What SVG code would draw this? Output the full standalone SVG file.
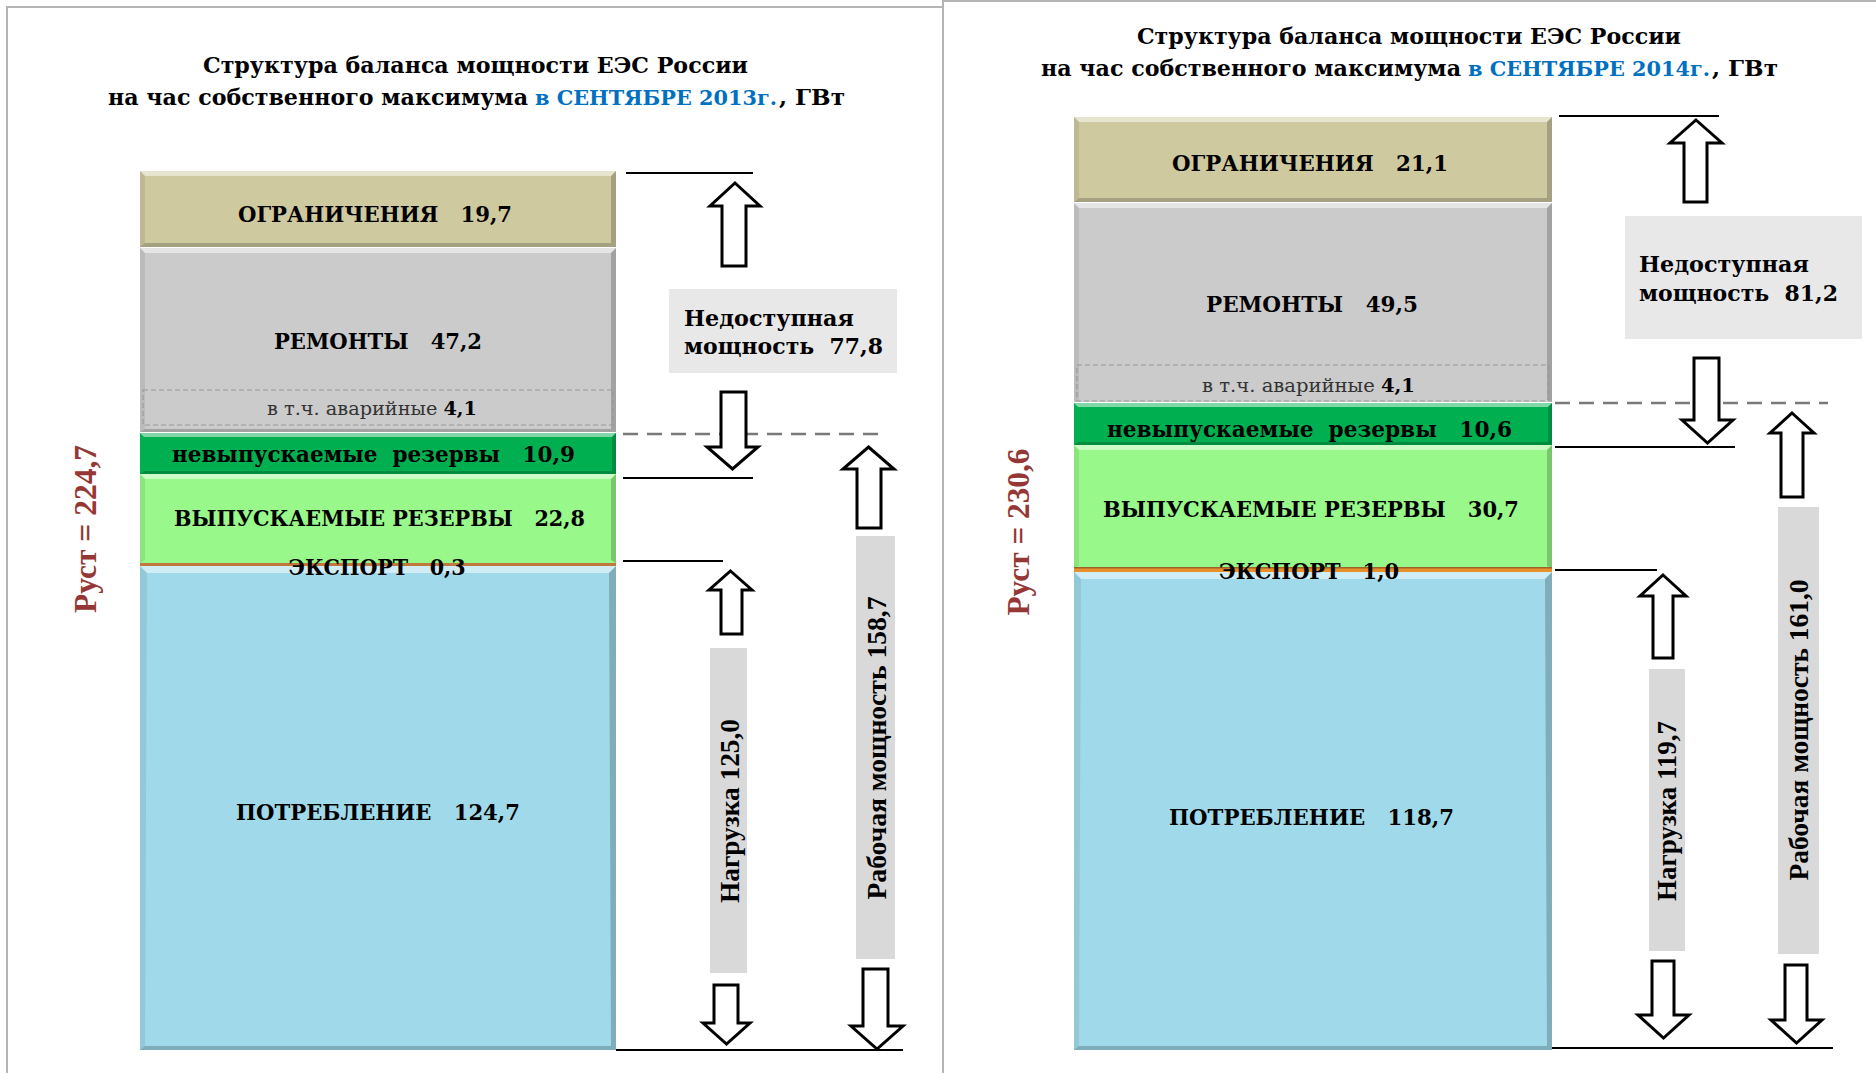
<svg xmlns="http://www.w3.org/2000/svg" width="1876" height="1073" viewBox="0 0 1876 1073">
<style>
.t{font-family:"DejaVu Serif","Liberation Serif",serif;font-weight:bold;fill:#000;white-space:pre}
.title{font-size:22px}
.blue{fill:#0070C0;font-size:20.5px}
.lbl{font-size:23px}
.sub{font-size:18px;font-weight:normal;fill:#333}
.rust{font-family:"Liberation Serif","Times New Roman",serif;font-size:32px;fill:#953735}
.vt{font-family:"Liberation Serif","Times New Roman",serif;font-size:27px}
.ogr{fill:#CFC9A0}
.rem{fill:#CBCBCB}
.nev{fill:#00B050}
.vyp{fill:#98F88A}
.pot{fill:#A0D9E9}
.hl{fill:#fff;opacity:.5}
.sd{fill:#000;opacity:.2}
.sl{fill:#000;opacity:.08}
.gbox{fill:#E8E8E8}
.vbox{fill:#D9D9D9}
.arrow{fill:#fff;stroke:#000;stroke-width:3;stroke-linejoin:miter}
.ln{stroke:#000;stroke-width:2;fill:none}
.dash{stroke:#7a7a7a;stroke-width:2.5;stroke-dasharray:15 9;fill:none}
.sdash{stroke:#999;stroke-width:1.2;stroke-dasharray:5 3;fill:none}
.frame{stroke:#b4b4b4;stroke-width:2;fill:none}
</style>
<rect width="1876" height="1073" fill="#fff"/>
<g id="frames">
<path class="frame" d="M7,1073 V7 H943"/>
<path class="frame" d="M943,1073 V1 H1876"/>
</g>

<!-- LEFT PANEL -->
<g id="title-2013">
<text class="t title" x="475.5" y="73" text-anchor="middle" textLength="545" lengthAdjust="spacingAndGlyphs">Структура баланса мощности ЕЭС России</text>
<text class="t title" x="108" y="105" textLength="420" lengthAdjust="spacingAndGlyphs">на час собственного максимума</text>
<text class="t title blue" x="535" y="105" textLength="242" lengthAdjust="spacingAndGlyphs">в СЕНТЯБРЕ 2013г.</text>
<text class="t title" x="779" y="105" textLength="66" lengthAdjust="spacingAndGlyphs">, ГВт</text>
</g>

<g id="rust-2013">
<text class="t rust" transform="translate(85,529) rotate(-90)" y="11" text-anchor="middle" textLength="168" lengthAdjust="spacingAndGlyphs">Руст = 224,7</text>
</g>

<g id="l-ogr">
<rect class="ogr" x="140" y="171" width="476" height="76"/>
<polygon class="hl" points="140,171 616,171 611,176 145,176"/>
<polygon class="sd" points="140,247 616,247 611,243 145,243"/>
<polygon class="sl" points="140,171 145,176 145,243 140,247"/>
<polygon class="sd" points="616,171 611,176 611,243 616,247"/>
<text class="t lbl" x="375" y="222" text-anchor="middle" textLength="274" lengthAdjust="spacingAndGlyphs">ОГРАНИЧЕНИЯ   19,7</text>
</g>
<g id="l-rem">
<rect class="rem" x="140" y="248" width="476" height="184"/>
<polygon class="hl" points="140,248 616,248 611,253 145,253"/>
<polygon class="sd" points="140,432 616,432 611,429 145,429"/>
<polygon class="sl" points="140,248 145,253 145,429 140,432"/>
<polygon class="sd" points="616,248 611,253 611,429 616,432"/>
<text class="t lbl" x="378" y="349" text-anchor="middle" textLength="208" lengthAdjust="spacingAndGlyphs">РЕМОНТЫ   47,2</text>
<rect class="sdash" x="143" y="390" width="470" height="35"/>
<text class="t sub" x="372" y="415" text-anchor="middle" textLength="210" lengthAdjust="spacingAndGlyphs">в т.ч. аварийные <tspan font-weight="bold" fill="#000">4,1</tspan></text>
</g>
<g id="l-nev">
<rect class="nev" x="140" y="433" width="476" height="41"/>
<polygon class="hl" points="140,433 616,433 612,437 144,437"/>
<polygon class="sd" points="140,474 616,474 612,471 144,471"/>
<polygon class="sd" points="616,433 612,437 612,471 616,474"/>
<text class="t lbl" x="373.5" y="462" text-anchor="middle" textLength="403" lengthAdjust="spacingAndGlyphs">невыпускаемые  резервы   10,9</text>
</g>
<g id="l-vyp">
<rect class="vyp" x="140" y="474" width="476" height="89"/>
<polygon class="hl" points="140,474 616,474 611,479 145,479"/>
<polygon class="sl" points="140,474 145,479 145,560 140,563"/>
<polygon class="sd" points="616,474 611,479 611,560 616,563"/>
<text class="t lbl" x="379.5" y="526" text-anchor="middle" textLength="411" lengthAdjust="spacingAndGlyphs">ВЫПУСКАЕМЫЕ РЕЗЕРВЫ   22,8</text>
</g>
<g id="l-pot">
<rect class="pot" x="140" y="566" width="476" height="484"/>
<polygon class="hl" points="140,566 616,566 609,573 147,573"/>
<polygon class="sd" points="140,1050 616,1050 611,1046 145,1046"/>
<polygon class="sl" points="140,566 147,573 145,1046 140,1050"/>
<polygon class="sd" points="616,566 609,573 611,1046 616,1050"/>
<text class="t lbl" x="378" y="820" text-anchor="middle" textLength="284" lengthAdjust="spacingAndGlyphs">ПОТРЕБЛЕНИЕ   124,7</text>
</g>
<g id="l-exp">
<rect x="140" y="563" width="476" height="3" fill="#C0783C"/>
<text class="t lbl" x="377" y="575" text-anchor="middle" textLength="177" lengthAdjust="spacingAndGlyphs">ЭКСПОРТ   0,3</text>
</g>

<g id="l-nedost">
<rect class="gbox" x="669" y="289" width="228" height="84"/>
<text class="t lbl" x="684" y="326" textLength="170" lengthAdjust="spacingAndGlyphs">Недоступная</text>
<text class="t lbl" x="684" y="354" textLength="199" lengthAdjust="spacingAndGlyphs">мощность  77,8</text>
</g>
<g id="l-nagr">
<rect class="vbox" x="710" y="648" width="37" height="325"/>
<text class="t vt" transform="translate(730,811) rotate(-90)" y="9" text-anchor="middle" textLength="184" lengthAdjust="spacingAndGlyphs">Нагрузка 125,0</text>
</g>
<g id="l-rab">
<rect class="vbox" x="856" y="536" width="39" height="423"/>
<text class="t vt" transform="translate(877,748) rotate(-90)" y="9" text-anchor="middle" textLength="303" lengthAdjust="spacingAndGlyphs">Рабочая мощность 158,7</text>
</g>

<g id="l-connectors">
<line class="ln" x1="626" y1="173" x2="753" y2="173"/>
<line class="dash" x1="623" y1="434" x2="887" y2="434"/>
<line class="ln" x1="623" y1="478" x2="753" y2="478"/>
<line class="ln" x1="623" y1="561" x2="723" y2="561"/>
<line class="ln" x1="616" y1="1050" x2="903" y2="1050"/>
<path class="arrow" d="M735,183 L760,206 L746,206 L746,266 L722,266 L722,206 L710,206 Z"/>
<path class="arrow" d="M721,392 L746,392 L746,447 L758,447 L732.5,469 L707,447 L721,447 Z"/>
<path class="arrow" d="M868.5,447 L894,469 L881,469 L881,528 L857,528 L857,469 L843,469 Z"/>
<path class="arrow" d="M730.5,571 L752,590 L742,590 L742,634 L721,634 L721,590 L709,590 Z"/>
<path class="arrow" d="M714,985 L738,985 L738,1023 L750,1023 L726.5,1044 L703,1023 L714,1023 Z"/>
<path class="arrow" d="M863,969 L888,969 L888,1026 L903,1026 L877,1049 L851,1026 L863,1026 Z"/>
</g>

<!-- RIGHT PANEL -->
<g id="title-2014">
<text class="t title" x="1409" y="44" text-anchor="middle" textLength="544" lengthAdjust="spacingAndGlyphs">Структура баланса мощности ЕЭС России</text>
<text class="t title" x="1041" y="76" textLength="420" lengthAdjust="spacingAndGlyphs">на час собственного максимума</text>
<text class="t title blue" x="1468" y="76" textLength="242" lengthAdjust="spacingAndGlyphs">в СЕНТЯБРЕ 2014г.</text>
<text class="t title" x="1712" y="76" textLength="66" lengthAdjust="spacingAndGlyphs">, ГВт</text>
</g>

<g id="rust-2014">
<text class="t rust" transform="translate(1018,532) rotate(-90)" y="11" text-anchor="middle" textLength="167" lengthAdjust="spacingAndGlyphs">Руст = 230,6</text>
</g>

<g id="r-ogr">
<rect class="ogr" x="1074" y="117" width="478" height="85"/>
<polygon class="hl" points="1074,117 1552,117 1547,122 1079,122"/>
<polygon class="sd" points="1074,202 1552,202 1547,198 1079,198"/>
<polygon class="sl" points="1074,117 1079,122 1079,198 1074,202"/>
<polygon class="sd" points="1552,117 1547,122 1547,198 1552,202"/>
<text class="t lbl" x="1310" y="171" text-anchor="middle" textLength="276" lengthAdjust="spacingAndGlyphs">ОГРАНИЧЕНИЯ   21,1</text>
</g>
<g id="r-rem">
<rect class="rem" x="1074" y="203" width="478" height="199"/>
<polygon class="hl" points="1074,203 1552,203 1547,208 1079,208"/>
<polygon class="sl" points="1074,203 1079,208 1079,400 1074,402"/>
<polygon class="sd" points="1552,203 1547,208 1547,400 1552,402"/>
<text class="t lbl" x="1312" y="312" text-anchor="middle" textLength="212" lengthAdjust="spacingAndGlyphs">РЕМОНТЫ   49,5</text>
<rect class="sdash" x="1077" y="365" width="472" height="36"/>
<text class="t sub" x="1308.5" y="392" text-anchor="middle" textLength="213" lengthAdjust="spacingAndGlyphs">в т.ч. аварийные <tspan font-weight="bold" fill="#000">4,1</tspan></text>
</g>
<g id="r-nev">
<rect class="nev" x="1074" y="403" width="478" height="42"/>
<polygon class="hl" points="1074,403 1552,403 1548,407 1078,407"/>
<polygon class="sd" points="1074,445 1552,445 1548,442 1078,442"/>
<polygon class="sd" points="1552,403 1548,407 1548,442 1552,445"/>
<text class="t lbl" x="1309.5" y="437" text-anchor="middle" textLength="405" lengthAdjust="spacingAndGlyphs">невыпускаемые  резервы   10,6</text>
</g>
<g id="r-vyp">
<rect class="vyp" x="1074" y="445" width="478" height="123"/>
<polygon class="hl" points="1074,445 1552,445 1547,450 1079,450"/>
<polygon class="sl" points="1074,445 1079,450 1079,566 1074,568"/>
<polygon class="sd" points="1552,445 1547,450 1547,566 1552,568"/>
<text class="t lbl" x="1311" y="517" text-anchor="middle" textLength="416" lengthAdjust="spacingAndGlyphs">ВЫПУСКАЕМЫЕ РЕЗЕРВЫ   30,7</text>
</g>
<g id="r-pot">
<rect class="pot" x="1074" y="572" width="478" height="478"/>
<polygon class="hl" points="1074,572 1552,572 1545,579 1081,579"/>
<polygon class="sd" points="1074,1050 1552,1050 1547,1046 1079,1046"/>
<polygon class="sl" points="1074,572 1081,579 1079,1046 1074,1050"/>
<polygon class="sd" points="1552,572 1545,579 1547,1046 1552,1050"/>
<text class="t lbl" x="1311.5" y="825" text-anchor="middle" textLength="285" lengthAdjust="spacingAndGlyphs">ПОТРЕБЛЕНИЕ   118,7</text>
</g>
<g id="r-exp">
<rect x="1074" y="567" width="478" height="5" fill="#E8902A"/>
<rect x="1074" y="567" width="478" height="1.5" fill="#A0602A"/>
<text class="t lbl" x="1309" y="579" text-anchor="middle" textLength="180" lengthAdjust="spacingAndGlyphs">ЭКСПОРТ   1,0</text>
</g>

<g id="r-nedost">
<rect class="gbox" x="1625" y="216" width="237" height="123"/>
<text class="t lbl" x="1639" y="272" textLength="170" lengthAdjust="spacingAndGlyphs">Недоступная</text>
<text class="t lbl" x="1639" y="301" textLength="199" lengthAdjust="spacingAndGlyphs">мощность  81,2</text>
</g>
<g id="r-nagr">
<rect class="vbox" x="1649" y="669" width="36" height="282"/>
<text class="t vt" transform="translate(1667,811) rotate(-90)" y="9" text-anchor="middle" textLength="180" lengthAdjust="spacingAndGlyphs">Нагрузка 119,7</text>
</g>
<g id="r-rab">
<rect class="vbox" x="1778" y="507" width="41" height="447"/>
<text class="t vt" transform="translate(1799,730) rotate(-90)" y="9" text-anchor="middle" textLength="301" lengthAdjust="spacingAndGlyphs">Рабочая мощность 161,0</text>
</g>

<g id="r-connectors">
<line class="ln" x1="1559" y1="116" x2="1719" y2="116"/>
<line class="dash" x1="1555" y1="403" x2="1828" y2="403"/>
<line class="ln" x1="1555" y1="447" x2="1735" y2="447"/>
<line class="ln" x1="1555" y1="570" x2="1657" y2="570"/>
<line class="ln" x1="1552" y1="1048" x2="1833" y2="1048"/>
<path class="arrow" d="M1696,120 L1722,143 L1707,143 L1707,202 L1684,202 L1684,143 L1670,143 Z"/>
<path class="arrow" d="M1694,358 L1719,358 L1719,420 L1733,420 L1707.5,443 L1682,420 L1694,420 Z"/>
<path class="arrow" d="M1792,413 L1814,433 L1803,433 L1803,497 L1781,497 L1781,433 L1770,433 Z"/>
<path class="arrow" d="M1663,575 L1686,596 L1673,596 L1673,658 L1653,658 L1653,596 L1640,596 Z"/>
<path class="arrow" d="M1652,961 L1674,961 L1674,1015 L1689,1015 L1663.5,1038 L1638,1015 L1652,1015 Z"/>
<path class="arrow" d="M1785,965 L1807,965 L1807,1020 L1822,1020 L1796.5,1043 L1771,1020 L1785,1020 Z"/>
</g>
</svg>
